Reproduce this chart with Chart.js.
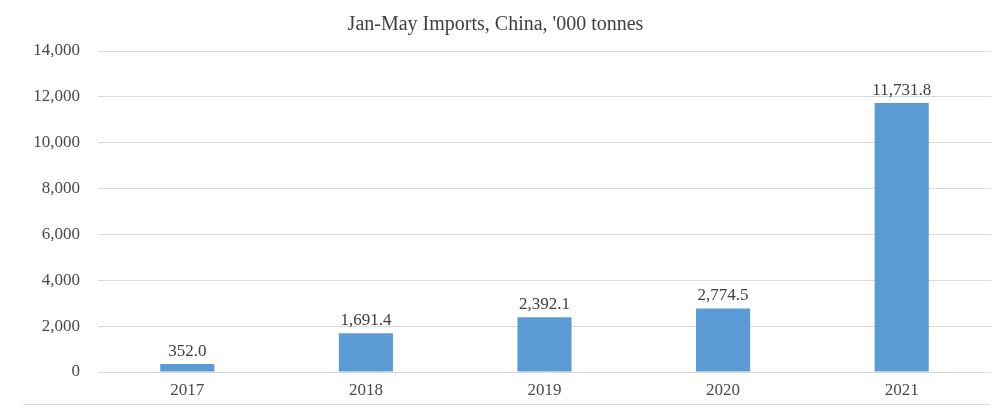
<!DOCTYPE html>
<html>
<head>
<meta charset="utf-8">
<script src="https://cdn.jsdelivr.net/npm/chart.js@4"></script>
<style>
html,body{margin:0;padding:0;background:#fff;}
#wrap{width:1008px;height:415px;position:relative;}
</style>
</head>
<body>
<div id="wrap"><canvas id="c" width="1008" height="415"></canvas></div>
<script>
const categories = ['2017', '2018', '2019', '2020', '2021'];
const imports = [352.0, 1691.4, 2392.1, 2774.5, 11731.8];
const yTicks = [0, 2000, 4000, 6000, 8000, 10000, 12000, 14000];
const titleText = "Jan-May Imports, China, '000 tonnes";

const fmt1 = v => v.toLocaleString('en-US', {minimumFractionDigits: 1, maximumFractionDigits: 1});

const labelPlugin = {
  id: 'barLabels',
  afterDatasetsDraw(chart) {
    const ctx = chart.ctx;
    const meta = chart.getDatasetMeta(0);
    ctx.save();
    ctx.font = '17px "Liberation Serif", serif';
    ctx.fillStyle = '#404040';
    ctx.textAlign = 'center';
    ctx.textBaseline = 'alphabetic';
    meta.data.forEach((bar, i) => {
      ctx.fillText(fmt1(imports[i]), bar.x, bar.y - 8);
    });
    ctx.restore();
  },
  afterDraw(chart) {
    const ctx = chart.ctx;
    ctx.save();
    ctx.strokeStyle = '#D9D9D9';
    ctx.lineWidth = 1;
    ctx.beginPath();
    ctx.moveTo(23, 404.5);
    ctx.lineTo(990, 404.5);
    ctx.stroke();
    ctx.restore();
  }
};

new Chart(document.getElementById('c'), {
  type: 'bar',
  data: {
    labels: categories,
    datasets: [{
      data: imports,
      backgroundColor: '#5B9BD5',
      borderWidth: 0,
      barPercentage: 0.6,
      categoryPercentage: 0.505
    }]
  },
  options: {
    responsive: false,
    animation: false,
    devicePixelRatio: 1,
    layout: {padding: {left: 0, right: 17, top: 0, bottom: 13}},
    plugins: {
      legend: {display: false},
      tooltip: {enabled: false},
      title: {
        display: true,
        text: titleText,
        color: '#404040',
        font: {family: '"Liberation Serif", serif', size: 20, weight: 'normal'},
        padding: {top: 13, bottom: 14}
      }
    },
    scales: {
      x: {
        grid: {display: false},
        border: {display: false},
        ticks: {
          color: '#4a4a4a',
          font: {family: '"Liberation Serif", serif', size: 17},
          padding: 0
        },
        afterFit(s) { s.height = 30; }
      },
      y: {
        min: 0,
        max: 14000,
        afterBuildTicks(s) { s.ticks = yTicks.map(v => ({value: v})); },
        grid: {color: '#D9D9D9', drawTicks: false, lineWidth: 1},
        border: {display: false},
        ticks: {
          color: '#4a4a4a',
          font: {family: '"Liberation Serif", serif', size: 17},
          padding: 18,
          callback: v => v.toLocaleString('en-US')
        },
        afterFit(s) { s.width = 98; }
      }
    }
  },
  plugins: [labelPlugin]
});
</script>
</body>
</html>
